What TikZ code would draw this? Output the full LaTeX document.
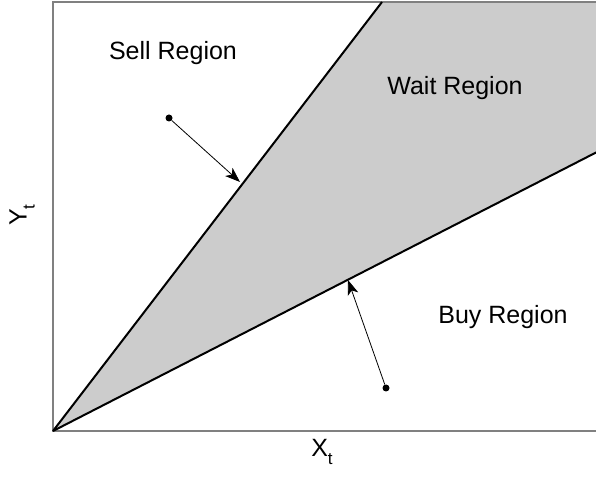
\documentclass[tikz,border=0pt]{standalone}
\usepackage{fontspec}
\setmainfont{Liberation Sans}
\usetikzlibrary{arrows.meta}

\begin{document}
\begin{tikzpicture}[
		font=\fontsize{25}{29}\selectfont,
		x=1pt,
		y=1pt,
		fronteira/.style={line width=2pt},
		seta/.style={-{Stealth[length=15pt,width=11pt,inset=4pt]}, line width=0.8pt},
		ponto/.style={circle, fill, inner sep=0pt, minimum size=7pt}
	]
	\useasboundingbox (0,0) rectangle (596,476);

	% ---- regiao de espera ----------------------------------------
	\coordinate (origem) at (53,45);
	\coordinate (topo) at (382,474);
	\coordinate (canto) at (597,474);
	\coordinate (direita) at (597,324);
	\fill[black!20] (origem) -- (topo) -- (canto) -- (direita) -- cycle;

	% ---- quadro --------------------------------------------------
	\draw[gray, line width=1.2pt] (origem) rectangle (598,474);

	% ---- fronteiras ----------------------------------------------
	\draw[fronteira] (origem) -- (topo);
	\draw[fronteira] (origem) -- (direita);

	% ---- rotulos das regioes ------------------------------------
	\node (venda) at (173,423) {Sell Region};
	\node (espera) at (455,388) {Wait Region};
	\node (compra) at (503,159) {Buy Region};

	% ---- setas ----------------------------------------------------
	\node[ponto] (pvenda) at (169,358) {};
	\coordinate (tvenda) at (240,294);
	\draw[seta] (pvenda) -- (tvenda);

	\node[ponto] (pcompra) at (386,88) {};
	\coordinate (tcompra) at (348,196);
	\draw[seta] (pcompra) -- (tcompra);

	% ---- eixos ----------------------------------------------------
	\node (eixox) at (322,24) {X\raisebox{-8pt}{\fontsize{17}{17}\selectfont t}};
	\node[rotate=90] (eixoy) at (22,261) {Y\raisebox{-8pt}{\fontsize{17}{17}\selectfont t}};
\end{tikzpicture}
\end{document}
